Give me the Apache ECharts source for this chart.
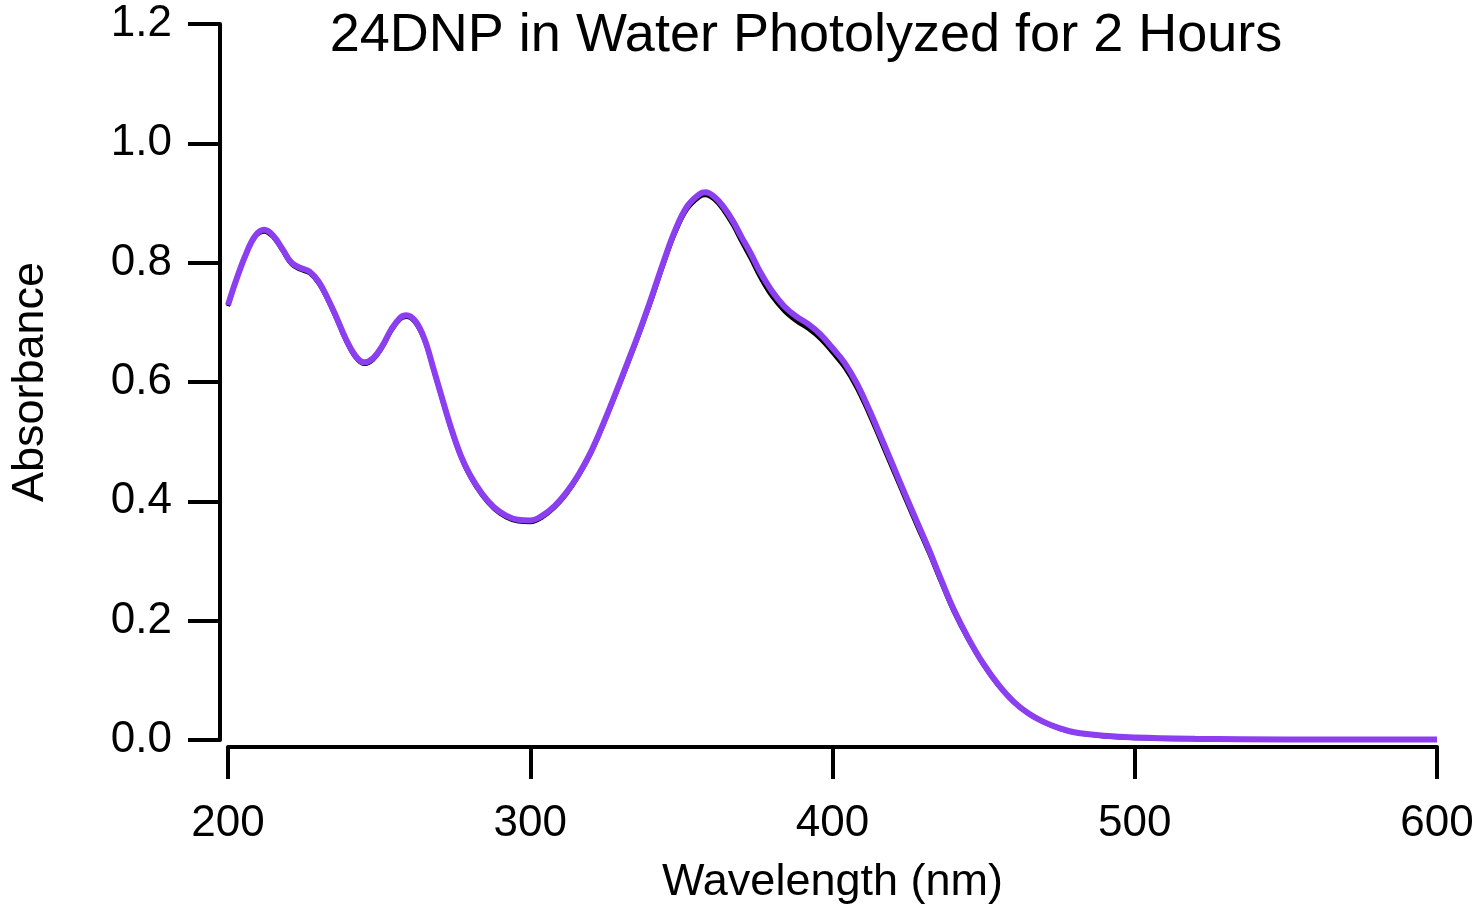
<!DOCTYPE html>
<html>
<head>
<meta charset="utf-8">
<script src="https://cdn.jsdelivr.net/npm/echarts@6/dist/echarts.min.js"></script>
<style>
  html, body { margin: 0; padding: 0; background: #fff; }
  #chart { width: 1478px; height: 905px; }
</style>
</head>
<body>
<div id="chart"></div>
<script>
// wavelengths (nm) and absorbance
const wavelengths = [200, 203, 206, 209, 212, 215, 218, 221, 224, 227, 230, 233, 236, 239, 242, 245, 248, 251, 254, 257,
  259, 262, 265, 268, 271, 274, 277, 280, 284, 288, 292, 296, 300, 304, 308, 312, 316, 320, 324, 328,
  332, 336, 340, 344, 348, 352, 356, 358, 361, 364, 367, 370, 373, 376, 380, 384, 388, 392, 396, 400,
  404, 408, 412, 416, 420, 424, 428, 432, 436, 440, 445, 450, 455, 460, 465, 470, 475, 480, 490, 500,
  520, 550, 580, 600]

const absPurple = [0.729, 0.775, 0.815, 0.845, 0.855, 0.845, 0.823, 0.800, 0.791, 0.785, 0.768, 0.740, 0.707, 0.672, 0.645, 0.633, 0.640, 0.660, 0.688, 0.708,
  0.712, 0.702, 0.672, 0.622, 0.570, 0.520, 0.477, 0.445, 0.413, 0.390, 0.376, 0.369, 0.368, 0.376, 0.392, 0.415, 0.445, 0.482, 0.528, 0.578,
  0.630, 0.683, 0.740, 0.800, 0.855, 0.895, 0.915, 0.918, 0.910, 0.893, 0.870, 0.842, 0.815, 0.785, 0.752, 0.727, 0.710, 0.697, 0.680, 0.657,
  0.632, 0.598, 0.555, 0.508, 0.460, 0.412, 0.365, 0.318, 0.268, 0.220, 0.170, 0.127, 0.092, 0.064, 0.044, 0.030, 0.020, 0.013, 0.007, 0.004,
  0.002, 0.001, 0.001, 0.001]

const absBlack = [0.727, 0.773, 0.813, 0.843, 0.852, 0.842, 0.820, 0.797, 0.788, 0.782, 0.765, 0.737, 0.704, 0.669, 0.642, 0.630, 0.637, 0.657, 0.685, 0.705,
  0.709, 0.699, 0.669, 0.619, 0.567, 0.517, 0.474, 0.442, 0.410, 0.387, 0.373, 0.366, 0.365, 0.373, 0.389, 0.412, 0.442, 0.479, 0.525, 0.575,
  0.626, 0.679, 0.735, 0.795, 0.850, 0.890, 0.910, 0.913, 0.905, 0.887, 0.863, 0.834, 0.806, 0.776, 0.743, 0.719, 0.702, 0.689, 0.672, 0.649,
  0.624, 0.590, 0.547, 0.500, 0.452, 0.405, 0.358, 0.312, 0.263, 0.216, 0.167, 0.125, 0.090, 0.063, 0.043, 0.029, 0.019, 0.012, 0.006, 0.003,
  0.001, 0.000, 0.000, 0.000]

const xTicks = [200, 300, 400, 500, 600]
const yTicks = [0.0, 0.2, 0.4, 0.6, 0.8, 1.0, 1.2]

const titleText = '24DNP in Water Photolyzed for 2 Hours'
const fontFam = 'Arial, "Liberation Sans", sans-serif'

const pairs = (ys) => wavelengths.map((w, i) => [w, ys[i]])

const chart = echarts.init(document.getElementById('chart'), null, {renderer: 'canvas'})

const option = {
  backgroundColor: '#ffffff',
  animation: false,
  title: {
    text: titleText,
    left: 801,
    textAlign: 'center',
    top: 4,
    textStyle: {fontFamily: fontFam, fontSize: 54, fontWeight: 'normal', color: '#000'}
  },
  grid: {left: 228, right: 41, top: 24, bottom: 165, containLabel: false, outerBoundsMode: 'none'},
  xAxis: {
    type: 'value',
    min: xTicks[0],
    max: xTicks[xTicks.length - 1],
    interval: 100,
    offset: 7,
    name: 'Wavelength (nm)',
    nameLocation: 'middle',
    nameGap: 113,
    nameTextStyle: {fontFamily: fontFam, fontSize: 45, color: '#000'},
    axisLine: {onZero: false, lineStyle: {color: '#000', width: 4}},
    axisTick: {length: 32, lineStyle: {color: '#000', width: 4}},
    axisLabel: {margin: 55, fontFamily: fontFam, fontSize: 44, color: '#000'},
    splitLine: {show: false}
  },
  yAxis: {
    type: 'value',
    min: 0,
    max: yTicks[yTicks.length - 1],
    interval: 0.2,
    offset: 8,
    name: 'Absorbance',
    nameLocation: 'middle',
    nameGap: 167,
    nameTextStyle: {fontFamily: fontFam, fontSize: 45, color: '#000'},
    axisLine: {onZero: false, lineStyle: {color: '#000', width: 4}},
    axisTick: {length: 32, lineStyle: {color: '#000', width: 4}},
    axisLabel: {margin: 48, fontFamily: fontFam, fontSize: 44, color: '#000', formatter: v => v.toFixed(1)},
    splitLine: {show: false}
  },
  series: [
    {
      name: 'black',
      type: 'line',
      data: pairs(absBlack),
      smooth: 0.4,
      showSymbol: false,
      lineStyle: {color: '#000000', width: 4}
    },
    {
      name: 'purple',
      type: 'line',
      data: pairs(absPurple),
      smooth: 0.4,
      showSymbol: false,
      lineStyle: {color: '#8b3ff0', width: 6}
    }
  ]
}

chart.setOption(option)
</script>
</body>
</html>
